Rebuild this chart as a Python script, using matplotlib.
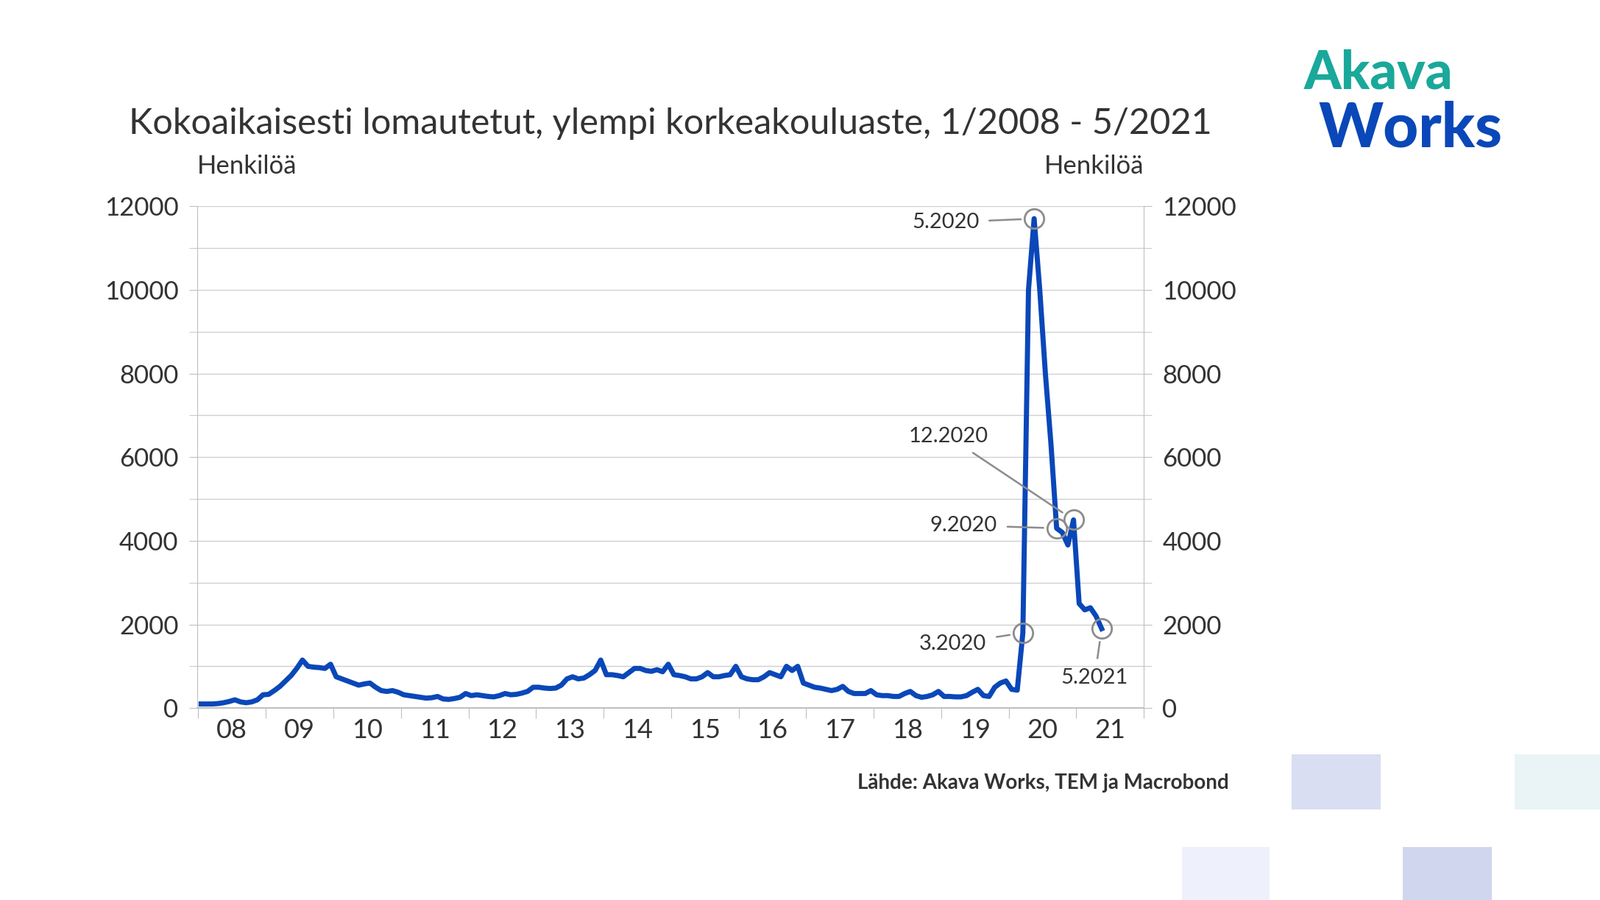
import matplotlib
matplotlib.use("Agg")
import matplotlib.pyplot as plt
import matplotlib.patches as mp
import numpy as np

years = ["08","09","10","11","12","13","14","15","16","17","18","19","20","21"]
v2008 = [100,100,100,110,130,160,200,150,130,150,200,320]
v2009 = [330,420,520,650,780,950,1150,1000,980,970,950,1050]
v2010 = [750,700,650,600,550,580,600,500,420,400,420,380]
v2011 = [320,300,280,260,240,250,280,220,210,230,260,350]
v2012 = [300,320,300,280,270,300,350,320,330,360,400,500]
v2013 = [500,480,470,480,550,700,750,700,720,800,900,1150]
v2014 = [800,800,780,750,850,950,950,900,880,920,870,1050]
v2015 = [800,780,750,700,700,750,850,750,750,780,800,1000]
v2016 = [750,700,680,680,750,850,800,750,1000,900,1000,600]
v2017 = [550,500,480,450,420,450,520,400,350,350,350,420]
v2018 = [320,300,300,280,280,350,400,300,260,280,320,400]
v2019 = [280,280,270,270,300,380,450,300,280,500,600,650]
v2020 = [450,430,1800,10000,11700,10000,8000,6300,4300,4200,3900,4500]
v2021 = [2500,2350,2400,2200,1900]
values = v2008+v2009+v2010+v2011+v2012+v2013+v2014+v2015+v2016+v2017+v2018+v2019+v2020+v2021
t = 2008 + np.arange(len(values))/12.0 + 1/24

ann_labels = ["3.2020", "5.2020", "9.2020", "12.2020", "5.2021"]
ann_index = [146, 148, 152, 155, 160]

F = "Lato"
plt.rcParams["font.family"] = F
fig = plt.figure(figsize=(21.74,12.23), dpi=100)
W,H = 1568,882
def fx(x): return x/W
def fy(y): return 1-y/H
ax = fig.add_axes([fx(193), fy(694), fx(1121)-fx(193), fy(202)-fy(694)])
ax.plot(t, values, color="#0a47b8", lw=5, solid_joinstyle="round", zorder=3)
ax.set_xlim(2007.98, 2022.0)
ax.set_ylim(0, 12000)
for v in range(1000, 12001, 1000):
    ax.axhline(v, color="#d0d0d0", lw=1, zorder=1)
for s in ["top","right"]:
    ax.spines[s].set_visible(False)
ax.spines["left"].set_color("#bfbfbf")
ax.spines["bottom"].set_color("#bfbfbf")
ax.spines["bottom"].set_linewidth(1.5)
ax.set_yticks(range(0,12001,2000))
ax.set_yticks(range(1000,12000,2000), minor=True)
ax.tick_params(axis="y", which="both", length=8, color="#bfbfbf", labelsize=25, labelcolor="#333333", pad=10)
ax.set_xticks(np.arange(2008,2023))
ax.set_xticklabels([])
ax.set_xticks(np.arange(2008,2022)+0.5, minor=True)
ax.set_xticklabels(years, minor=True)
ax.tick_params(axis="x", which="major", length=10, color="#bfbfbf")
ax.tick_params(axis="x", which="minor", length=0, labelsize=26, labelcolor="#333333", pad=10)
ax2 = ax.twinx()
ax2.set_ylim(0,12000)
ax2.set_yticks(range(0,12001,2000))
ax2.set_yticks(range(1000,12000,2000), minor=True)
ax2.tick_params(axis="y", which="both", length=8, color="#bfbfbf", labelsize=25, labelcolor="#333333", pad=10)
for s in ["top","left","bottom"]:
    ax2.spines[s].set_visible(False)
ax2.spines["right"].set_color("#bfbfbf")

ann_text = [(2019.67, 1540, "right", "center"),
            (2019.56, 11610, "right", "center"),
            (2019.83, 4370, "right", "center"),
            (2019.70, 6490, "right", "center"),
            (2021.27, 950, "center", "top")]
for lab, i, (tx, ty, ha, va) in zip(ann_labels, ann_index, ann_text):
    x, y = t[i], values[i]
    ax.plot([x], [y], marker="o", ms=19, mfc="none", mec="#8c8c8c", mew=2, zorder=4, clip_on=False)
    ax.annotate(lab, xy=(x, y), xytext=(tx, ty), fontsize=21, color="#333333",
                ha=ha, va=va,
                arrowprops=dict(arrowstyle="-", color="#8c8c8c", lw=1.8, shrinkA=8, shrinkB=13))

fig.text(fx(657), fy(121), "Kokoaikaisesti lomautetut, ylempi korkeakouluaste, 1/2008 - 5/2021",
         ha="center", va="center", fontsize=35, color="#333333")
fig.text(fx(193), fy(163), "Henkilöä", ha="left", va="center", fontsize=25, color="#333333")
fig.text(fx(1121), fy(163), "Henkilöä", ha="right", va="center", fontsize=25, color="#333333")
fig.text(fx(1204), fy(767), "Lähde: Akava Works, TEM ja Macrobond", ha="right", va="center",
         fontsize=20, color="#333333", fontweight="bold")
fig.text(fx(1278), fy(72), "Akava", ha="left", va="center", fontsize=52, color="#1aa89a", fontweight="heavy")
fig.text(fx(1292), fy(126), "Works", ha="left", va="center", fontsize=60, color="#0a47b8", fontweight="heavy")
for (x0,y0,x1,y1,c) in [(1266,739,1353,793,"#d9def3"),(1484,739,1568,793,"#eaf4f7"),
                        (1158,830,1244,882,"#eef1fb"),(1375,830,1462,882,"#d0d6ee")]:
    fig.add_artist(mp.Rectangle((fx(x0), fy(y1)), fx(x1)-fx(x0), fy(y0)-fy(y1),
                                transform=fig.transFigure, color=c, lw=0))
fig.savefig("out.png", dpi=100)
